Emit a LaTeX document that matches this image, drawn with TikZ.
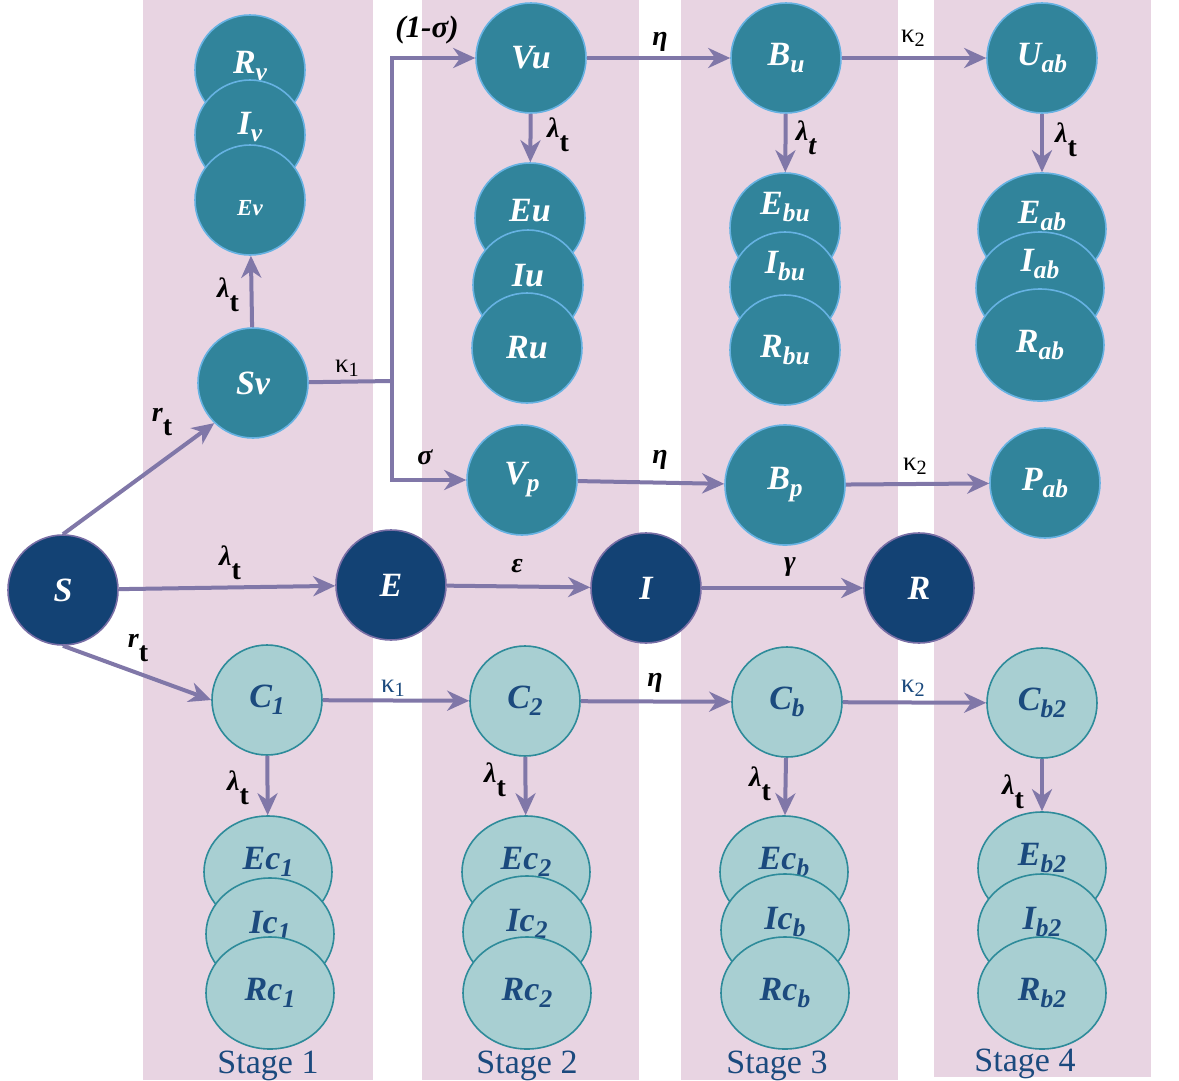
\documentclass[tikz,border=0pt]{standalone}
\usepackage{fontspec}
\setmainfont{Liberation Serif}
\usetikzlibrary{arrows.meta,shapes.geometric}

\definecolor{stripe}{RGB}{232,212,226}
\definecolor{tealv}{RGB}{49,132,155}
\definecolor{tealrim}{RGB}{102,178,226}
\definecolor{navy}{RGB}{19,66,116}
\definecolor{navyrim}{RGB}{120,110,165}
\definecolor{pale}{RGB}{168,207,210}
\definecolor{palerim}{RGB}{46,139,154}
\definecolor{inkblue}{RGB}{27,74,126}
\definecolor{flowc}{RGB}{128,119,168}

\newcommand{\lowr}[1]{\raisebox{-0.45ex}{\scalebox{0.75}{#1}}}
\newcommand{\lamt}{λ\raisebox{-1.05ex}{\upshape t}}
\newcommand{\lamit}{λ\raisebox{-1.05ex}{t}}
\newcommand{\rtt}{r\raisebox{-1.05ex}{\upshape t}}
\newcommand{\kapp}[1]{κ\raisebox{-0.3ex}{\scalebox{0.75}{#1}}}

\tikzset{>={Stealth[length=22pt,width=20pt,inset=7pt]}}
\tikzset{
  comp/.style  = {circle, minimum size=110pt, inner sep=0pt, line width=1.6pt,
                  font=\fontsize{34}{38}\selectfont\bfseries\itshape},
  vax/.style   = {comp, fill=tealv, draw=tealrim, text=white},
  core/.style  = {comp, fill=navy, draw=navyrim, text=white},
  cross/.style = {comp, fill=pale, draw=palerim, text=inkblue},
  oval/.style  = {ellipse, minimum width=128pt, minimum height=112pt},
  lift/.style  = {text height=23pt, text depth=#1},
  drop/.style  = {text height=#1, text depth=0pt},
  rate/.style  = {font=\fontsize{28}{32}\selectfont\bfseries\itshape, inner sep=0pt},
  kap/.style   = {font=\fontsize{27}{31}\selectfont, inner sep=0pt},
  stage/.style = {font=\fontsize{34}{38}\selectfont, text=inkblue},
  flow/.style  = {->, draw=flowc, line width=4pt}
}

\begin{document}
\begin{tikzpicture}[x=1pt,y=-1pt]
\fill[white] (0,0) rectangle (1179,1080);
\useasboundingbox (0,0) rectangle (1179,1080);

% stage stripes
\fill[stripe] (143,0) rectangle (373,1080);
\fill[stripe] (422,0) rectangle (639,1080);
\fill[stripe] (681,0) rectangle (898,1080);
\fill[stripe] (934,0) rectangle (1151,1077);

% vaccinated branch
\node[vax, lift=16pt] (rv) at (250,70) {R\lowr{v}};
\node[vax, lift=24pt] (iv) at (250,135) {I\lowr{v}};
\node[vax, font=\fontsize{23}{27}\selectfont\bfseries\itshape, drop=31pt] (ev) at (250,200) {Ev};
\node[vax] (sv) at (253,383) {Sv};

\node[vax] (vu) at (531,58) {Vu};
\node[vax, lift=16pt] (eu) at (530,218) {Eu};
\node[vax, lift=20pt] (iu) at (528,285) {Iu};
\node[vax] (ru) at (527,348) {Ru};

\node[vax] (bu) at (786,58) {B\lowr{u}};
\node[vax, lift=50pt] (ebu) at (785,228) {E\lowr{bu}};
\node[vax, lift=50pt] (ibu) at (785,287) {I\lowr{bu}};
\node[vax] (rbu) at (785,350) {R\lowr{bu}};

\node[vax] (uab) at (1042,58) {U\lowr{ab}};
\node[vax, oval, lift=34pt] (eab) at (1042,229) {E\lowr{ab}};
\node[vax, oval, lift=56pt] (iab) at (1040,288) {I\lowr{ab}};
\node[vax, oval] (rab) at (1040,345) {R\lowr{ab}};

\node[vax] (vp) at (522,480) {V\lowr{p}};
\node[vax, minimum size=120pt] (bp) at (785,485) {B\lowr{p}};
\node[vax] (pab) at (1045,483) {P\lowr{ab}};

% main chain
\node[core] (s) at (63,590) {S};
\node[core] (e) at (391,585) {E};
\node[core] (i) at (646,588) {I};
\node[core] (r) at (919,588) {R};

% cross-immune branch
\node[cross] (c1) at (267,700) {C\lowr{1}};
\node[cross] (c2) at (525,701) {C\lowr{2}};
\node[cross] (cb) at (787,702) {C\lowr{b}};
\node[cross] (cb2) at (1042,703) {C\lowr{b2}};

\node[cross, oval, lift=28pt] (ec1) at (268,872) {Ec\lowr{1}};
\node[cross, oval, lift=24pt] (ic1) at (270,934) {Ic\lowr{1}};
\node[cross, oval] (rc1) at (270,993) {Rc\lowr{1}};

\node[cross, oval, lift=28pt] (ec2) at (526,872) {Ec\lowr{2}};
\node[cross, oval, lift=24pt] (ic2) at (527,932) {Ic\lowr{2}};
\node[cross, oval] (rc2) at (527,993) {Rc\lowr{2}};

\node[cross, oval, lift=28pt] (ecb) at (784,872) {Ec\lowr{b}};
\node[cross, oval, lift=24pt] (icb) at (785,930) {Ic\lowr{b}};
\node[cross, oval] (rcb) at (785,993) {Rc\lowr{b}};

\node[cross, oval, lift=28pt] (eb2) at (1042,868) {E\lowr{b2}};
\node[cross, oval, lift=24pt] (ib2) at (1042,930) {I\lowr{b2}};
\node[cross, oval] (rb2) at (1042,993) {R\lowr{b2}};

% flows
\coordinate (fork) at (392,381);
\draw[flow] (s.north) -- (sv.226);
\draw[flow] (s) -- (e);
\draw[flow] (s.south) -- (c1.west);
\draw[flow] (sv) -- (ev);
\draw[flow,-] (sv) -- (fork);
\draw[flow] (fork) |- (vu);
\draw[flow] (fork) |- (vp);
\draw[flow] (vu) -- (bu);
\draw[flow] (vu) -- (eu);
\draw[flow] (bu) -- (uab);
\draw[flow] (bu) -- (ebu);
\draw[flow] (uab) -- (eab);
\draw[flow] (vp) -- (bp);
\draw[flow] (bp) -- (pab);
\draw[flow] (e) -- (i);
\draw[flow] (i) -- (r);
\draw[flow] (c1) -- (c2);
\draw[flow] (c2) -- (cb);
\draw[flow] (cb) -- (cb2);
\draw[flow] (c1) -- (ec1);
\draw[flow] (c2) -- (ec2);
\draw[flow] (cb) -- (ecb);
\draw[flow] (cb2) -- (eb2);

% rates
\node[rate] (l-ssv) at (162,422) {\rtt};
\node[rate] (l-se) at (230,563) {\lamt};
\node[rate] (l-sc) at (138,648) {\rtt};
\node[rate] (l-sv) at (228,295) {\lamt};
\node[kap] (l-k1) at (347,368) {\kapp{1}};
\node[rate, font=\fontsize{31}{35}\selectfont\bfseries\itshape] (l-vu) at (427,30) {(1-σ)};
\node[rate] (l-vp) at (425,457) {σ};
\node[rate] (l-eta1) at (660,42) {η};
\node[rate] (l-eu) at (558,135) {\lamt};
\node[kap] (l-k2) at (913,38) {\kapp{2}};
\node[rate] (l-ebu) at (806,138) {\lamit};
\node[rate] (l-eab) at (1066,140) {\lamt};
\node[rate] (l-eta2) at (660,460) {η};
\node[kap] (l-k2p) at (915,466) {\kapp{2}};
\node[rate] (l-eps) at (517,566) {ε};
\node[rate] (l-gam) at (790,567) {γ};
\node[kap, text=inkblue] (l-k1c) at (393,688) {\kapp{1}};
\node[rate] (l-eta3) at (655,683) {η};
\node[kap, text=inkblue] (l-k2c) at (913,688) {\kapp{2}};
\node[rate] (l-c1) at (238,788) {\lamt};
\node[rate] (l-c2) at (495,780) {\lamt};
\node[rate] (l-cb) at (760,784) {\lamt};
\node[rate] (l-cb2) at (1013,792) {\lamt};

% stage labels
\node[stage] (st1) at (268,1066) {Stage 1};
\node[stage] (st2) at (527,1066) {Stage 2};
\node[stage] (st3) at (777,1066) {Stage 3};
\node[stage] (st4) at (1025,1064) {Stage 4};
\end{tikzpicture}
\end{document}
